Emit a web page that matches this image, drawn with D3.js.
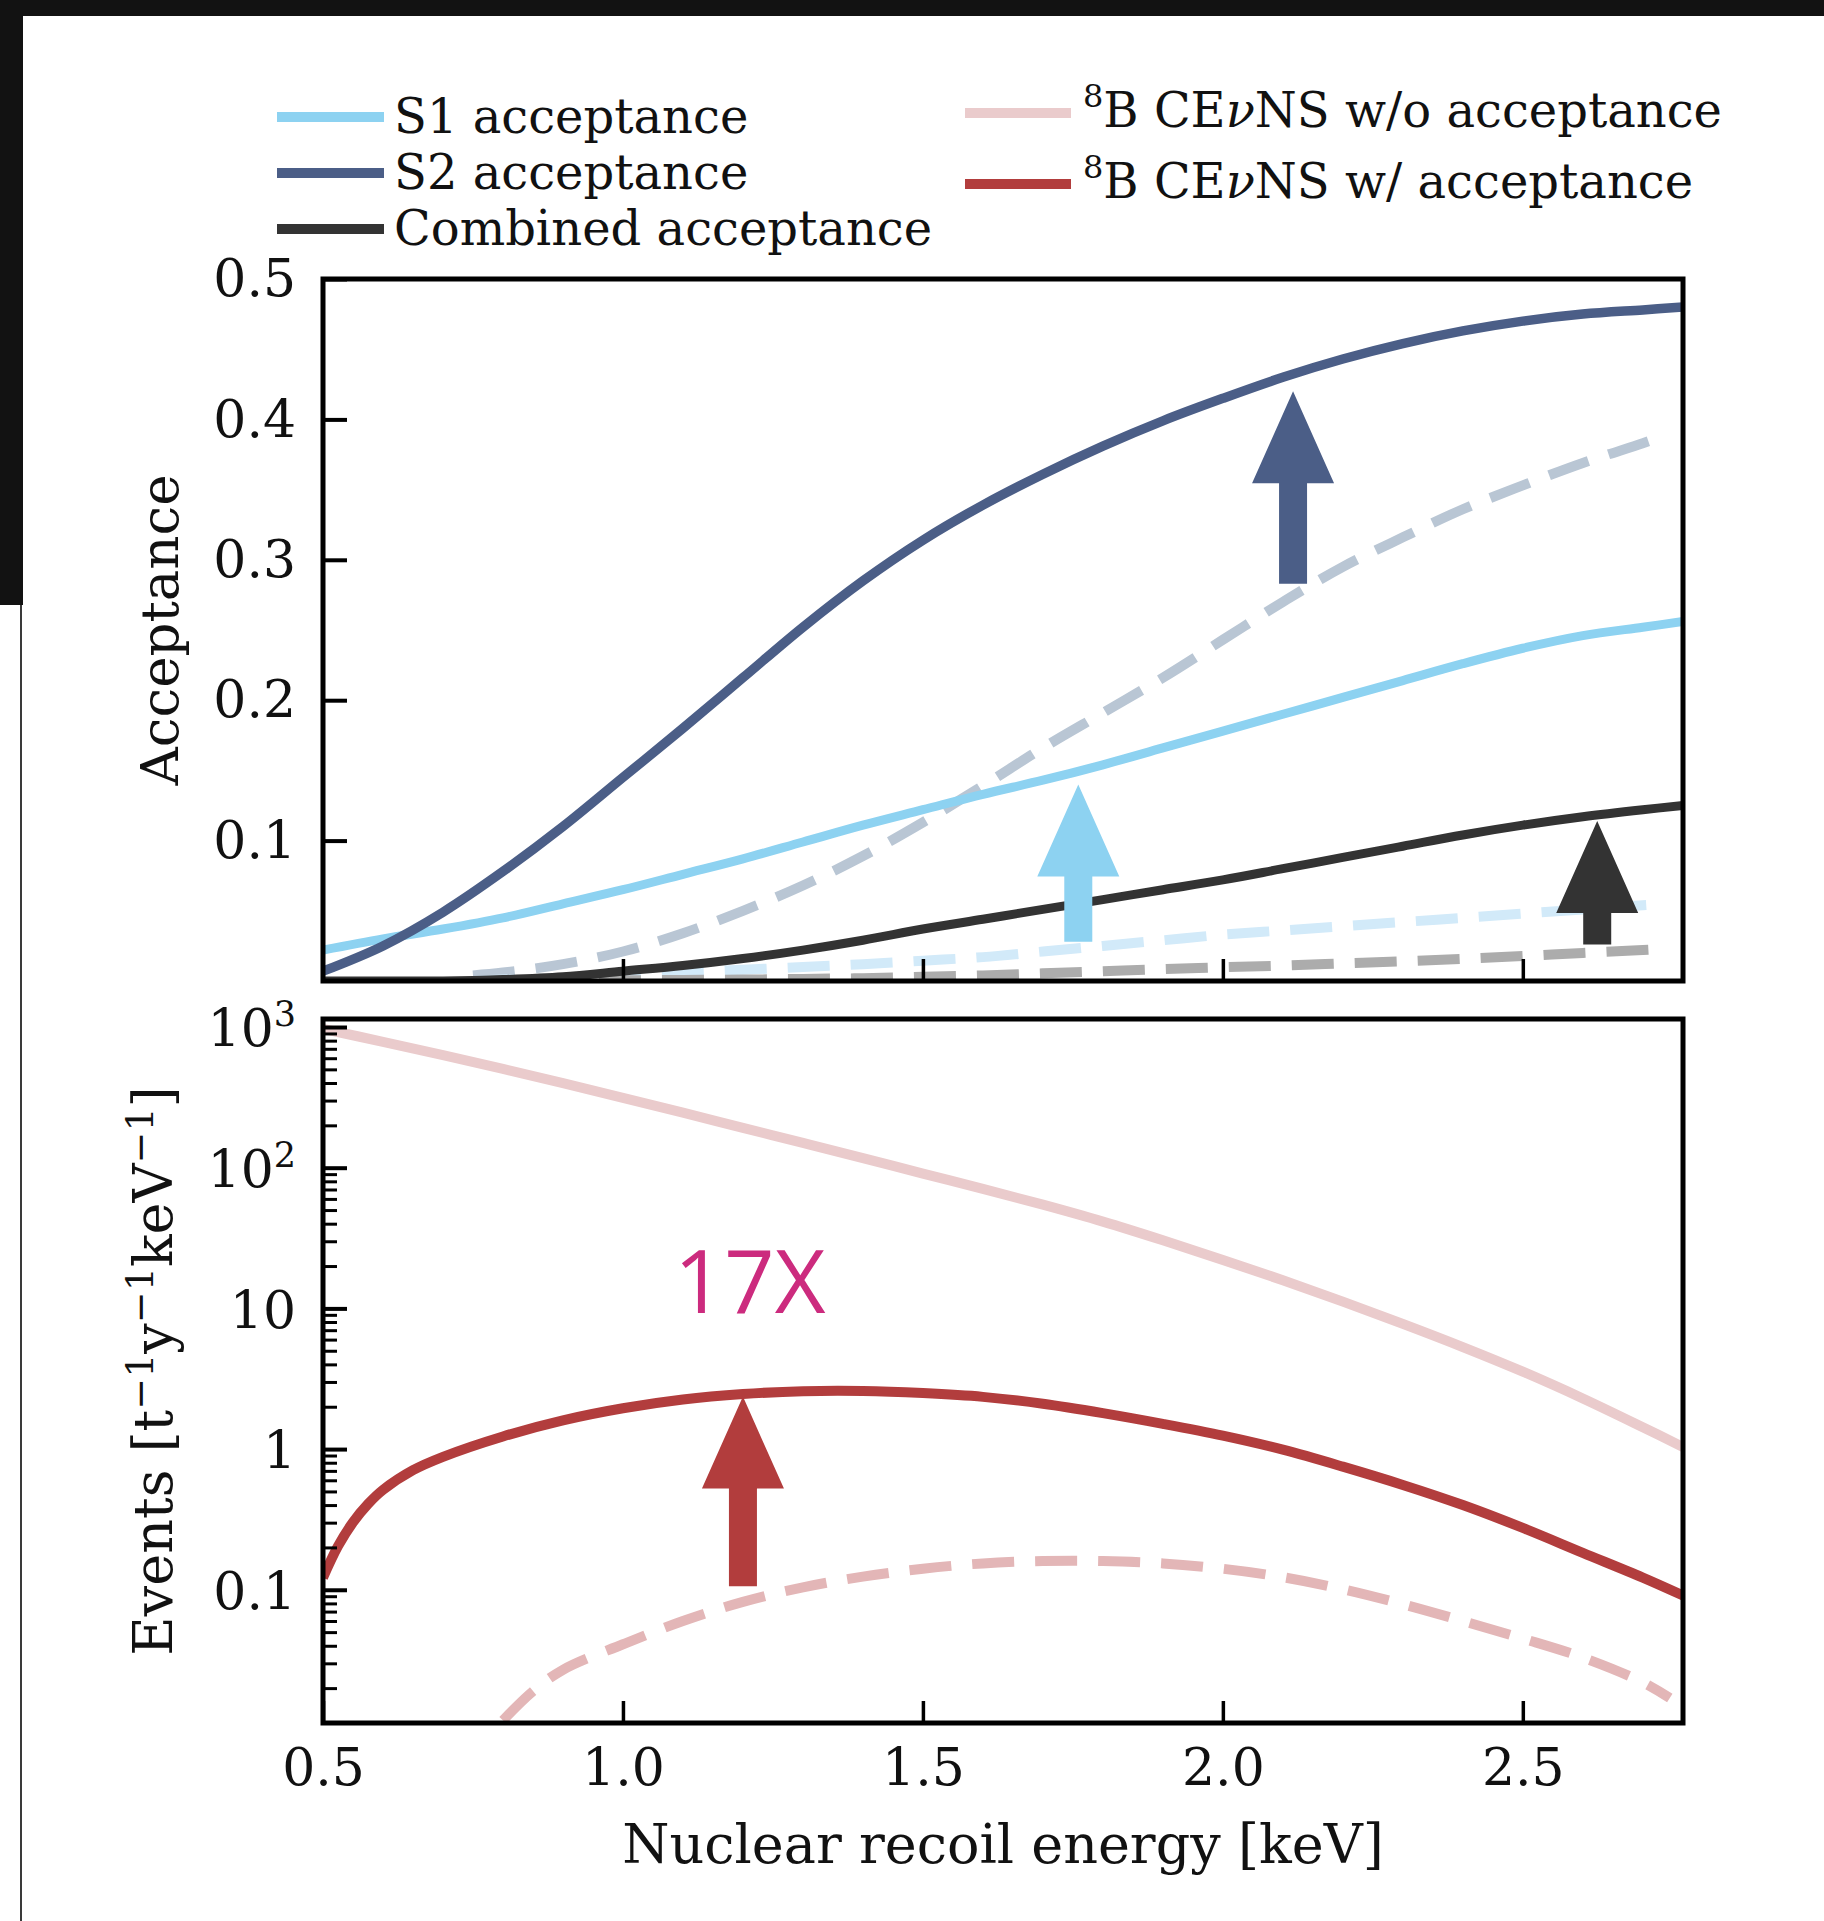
<!DOCTYPE html>
<html>
<head>
<meta charset="utf-8">
<script src="https://cdn.jsdelivr.net/npm/d3@7"></script>
<style>
  body { margin: 0; background: #ffffff; }
  svg { display: block; }
  text { font-family: "DejaVu Serif", serif; fill: #111111; }
</style>
</head>
<body>
<svg id="chart" width="1824" height="1921"></svg>
<script>
// ---------- data ----------
// Recoil energy grid (keV) for the acceptance curves
const energyGrid = [0.5, 0.6, 0.7, 0.8, 0.9, 1.0, 1.1, 1.2, 1.3, 1.4, 1.5, 1.6, 1.7, 1.8, 1.9, 2.0, 2.1, 2.2, 2.3, 2.4, 2.5, 2.6, 2.7, 2.767];
const s1Acceptance = [0.022, 0.030, 0.037, 0.045, 0.055, 0.065, 0.076, 0.087, 0.099, 0.111, 0.122, 0.133, 0.143, 0.154, 0.166, 0.178, 0.190, 0.202, 0.214, 0.226, 0.237, 0.246, 0.252, 0.256];
const s2Acceptance = [0.007, 0.025, 0.049, 0.078, 0.110, 0.145, 0.180, 0.216, 0.252, 0.285, 0.314, 0.339, 0.361, 0.381, 0.399, 0.415, 0.430, 0.443, 0.454, 0.463, 0.470, 0.475, 0.478, 0.480];
const combinedAcceptance = [0.000, 0.000, 0.000, 0.001, 0.003, 0.007, 0.011, 0.016, 0.022, 0.029, 0.037, 0.044, 0.051, 0.058, 0.065, 0.072, 0.080, 0.088, 0.096, 0.104, 0.111, 0.117, 0.122, 0.125];

// Previous (dashed) acceptance curves
const energyPrev = [0.75, 0.8, 0.9, 1.0, 1.1, 1.2, 1.3, 1.4, 1.5, 1.6, 1.7, 1.8, 1.9, 2.0, 2.1, 2.2, 2.3, 2.4, 2.5, 2.6, 2.7, 2.74];
const s1AcceptancePrev = [0.000, 0.001, 0.002, 0.004, 0.006, 0.008, 0.010, 0.012, 0.0145, 0.017, 0.021, 0.025, 0.029, 0.033, 0.036, 0.039, 0.042, 0.045, 0.048, 0.051, 0.054, 0.055];
const s2AcceptancePrev = [0.004, 0.006, 0.012, 0.021, 0.034, 0.050, 0.068, 0.089, 0.113, 0.139, 0.166, 0.191, 0.216, 0.243, 0.270, 0.295, 0.316, 0.336, 0.353, 0.369, 0.383, 0.389];
const combinedAcceptancePrev = [0.000, 0.000, 0.000, 0.0005, 0.0008, 0.001, 0.0015, 0.002, 0.003, 0.004, 0.0055, 0.007, 0.0085, 0.0098, 0.011, 0.0125, 0.014, 0.0158, 0.0178, 0.020, 0.022, 0.023];

// 8B CEvNS rate [t^-1 y^-1 keV^-1]
const rateNoAcc = [970, 785, 631, 504, 399, 314, 246, 192, 150, 117, 90.8, 70.8, 54.6, 41.4, 30.5, 22.1, 15.85, 11.17, 7.76, 5.31, 3.55, 2.29, 1.43, 1.035];
const energyRateAcc = [0.5, 0.525, 0.55, 0.575, 0.6, 0.65, 0.7, 0.8, 0.9, 1.0, 1.1, 1.2, 1.3, 1.4, 1.5, 1.6, 1.7, 1.8, 1.9, 2.0, 2.1, 2.2, 2.3, 2.4, 2.5, 2.6, 2.7, 2.767];
const rateWithAcc = [0.122, 0.204, 0.302, 0.407, 0.513, 0.708, 0.881, 1.23, 1.60, 1.95, 2.25, 2.46, 2.58, 2.59, 2.50, 2.35, 2.10, 1.80, 1.51, 1.245, 0.99, 0.75, 0.556, 0.40, 0.275, 0.183, 0.122, 0.091];
const energyRatePrev = [0.8, 0.85, 0.9, 1.0, 1.1, 1.2, 1.3, 1.4, 1.5, 1.6, 1.7, 1.8, 1.9, 2.0, 2.1, 2.2, 2.3, 2.4, 2.5, 2.6, 2.7, 2.745];
const rateWithAccPrev = [0.0118, 0.019, 0.027, 0.041, 0.060, 0.082, 0.104, 0.124, 0.141, 0.154, 0.160, 0.160, 0.154, 0.141, 0.123, 0.101, 0.079, 0.060, 0.045, 0.033, 0.022, 0.017];

// Improvement arrows: energy, start value, end value
const accArrowEnergy = [2.117, 1.759, 2.624];
const accArrowFrom = [0.283, 0.028, 0.026];
const accArrowTo = [0.420, 0.140, 0.114];
const rateArrowEnergy = [1.20];
const rateArrowFrom = [0.106];
const rateArrowTo = [2.36];

// Tick labels
const xTicks = [0.5, 1.0, 1.5, 2.0, 2.5];
const accTicks = [0.1, 0.2, 0.3, 0.4, 0.5];
const rateTicks = [0.1, 1, 10, 100, 1000];
const rateTickLabels = [["0.1", ""], ["1", ""], ["10", ""], ["10", "2"], ["10", "3"]];

// Legend entries
const legendLeft = ["S1 acceptance", "S2 acceptance", "Combined acceptance"];
const legendRight = ["w/o acceptance", "w/ acceptance"];

// ---------- layout ----------
const svg = d3.select("#chart");
const W = 1824, H = 1921;
const plotLeft = 323, plotRight = 1683;
const topY0 = 279, topY1 = 981;
const botY0 = 1019, botY1 = 1723;

const colors = {
  s1: "#8dd2f1", s2: "#4b5e87", comb: "#333333",
  s1Prev: "#d2eaf9", s2Prev: "#b9c6d4", combPrev: "#acacac",
  rateNo: "#eacbcc", rate: "#b23d3d", ratePrev: "#e3b6b7",
  note: "#cc2b7e"
};

// page backdrop
svg.append("rect").attr("x", 0).attr("y", 0).attr("width", W).attr("height", H).attr("fill", "#ffffff");
svg.append("rect").attr("x", 0).attr("y", 0).attr("width", W).attr("height", 16).attr("fill", "#121212");
svg.append("rect").attr("x", 0).attr("y", 0).attr("width", 23).attr("height", 605).attr("fill", "#121212");
svg.append("line").attr("x1", 21).attr("x2", 21).attr("y1", 605).attr("y2", H)
  .attr("stroke", "#3a3a3a").attr("stroke-width", 2);

// scales
const x = d3.scaleLinear().domain([0.5, 2.767]).range([plotLeft, plotRight]);
const yAcc = d3.scaleLinear().domain([0, 0.5]).range([topY1, topY0]);
const yRate = d3.scaleLog().domain([0.0113, 1140]).range([botY1, botY0]);

// clip paths
const defs = svg.append("defs");
defs.append("clipPath").attr("id", "clipTop").append("rect")
  .attr("x", plotLeft).attr("y", topY0).attr("width", plotRight - plotLeft).attr("height", topY1 - topY0);
defs.append("clipPath").attr("id", "clipBot").append("rect")
  .attr("x", plotLeft).attr("y", botY0).attr("width", plotRight - plotLeft).attr("height", botY1 - botY0);

const DASH = "42,21";

function drawCurve(g, xs, ys, yScale, color, width, dash) {
  const pts = xs.map((e, i) => [e, ys[i]]);
  const line = d3.line().x(d => x(d[0])).y(d => yScale(d[1])).curve(d3.curveCatmullRom.alpha(0.5));
  g.append("path").datum(pts).attr("d", line)
    .attr("fill", "none").attr("stroke", color).attr("stroke-width", width)
    .attr("stroke-linecap", "butt").attr("stroke-linejoin", "round")
    .attr("stroke-dasharray", dash || null);
}

function drawArrow(g, e, v0, v1, yScale, color) {
  const cx = x(e), yTail = yScale(v0), yTip = yScale(v1);
  const shaft = 14, head = 41, headLen = 92;
  const yBase = yTip + headLen;
  const pts = [
    [cx - shaft, yTail], [cx - shaft, yBase], [cx - head, yBase], [cx, yTip],
    [cx + head, yBase], [cx + shaft, yBase], [cx + shaft, yTail]
  ];
  g.append("path").attr("d", d3.line()(pts) + "Z").attr("fill", color);
}

// ---------- top panel: acceptance ----------
const gTop = svg.append("g");
const curvesTop = gTop.append("g").attr("clip-path", "url(#clipTop)");
drawCurve(curvesTop, energyPrev, s2AcceptancePrev, yAcc, colors.s2Prev, 10, DASH);
drawCurve(curvesTop, energyPrev, s1AcceptancePrev, yAcc, colors.s1Prev, 10, DASH);
drawCurve(curvesTop, energyPrev, combinedAcceptancePrev, yAcc, colors.combPrev, 10, DASH);
drawCurve(curvesTop, energyGrid, s1Acceptance, yAcc, colors.s1, 9);
drawCurve(curvesTop, energyGrid, s2Acceptance, yAcc, colors.s2, 9.5);
drawCurve(curvesTop, energyGrid, combinedAcceptance, yAcc, colors.comb, 9);

const arrowColorsTop = [colors.s2, colors.s1, colors.comb];
accArrowEnergy.forEach((e, i) => drawArrow(gTop, e, accArrowFrom[i], accArrowTo[i], yAcc, arrowColorsTop[i]));

// ---------- bottom panel: event rate ----------
const gBot = svg.append("g");
const curvesBot = gBot.append("g").attr("clip-path", "url(#clipBot)");
drawCurve(curvesBot, energyGrid, rateNoAcc, yRate, colors.rateNo, 10);
drawCurve(curvesBot, energyRatePrev, rateWithAccPrev, yRate, colors.ratePrev, 10, DASH);
drawCurve(curvesBot, energyRateAcc, rateWithAcc, yRate, colors.rate, 10);
rateArrowEnergy.forEach((e, i) => drawArrow(gBot, e, rateArrowFrom[i], rateArrowTo[i], yRate, colors.rate));

gBot.append("text").attr("x", 674).attr("y", 1313)
  .style("font-family", "'Open Sans', sans-serif").style("font-size", "88px")
  .style("fill", colors.note).text("17X");

// ---------- axes ----------
const TICK_FONT = "52px";
function styleAxis(g, width) {
  g.select(".domain").remove();
  g.selectAll(".tick line").attr("stroke", "#000").attr("stroke-width", width);
  g.selectAll("text").style("font-family", "'DejaVu Serif', serif").style("font-size", TICK_FONT).attr("fill", "#111");
}

// top panel axes
const axTopX = svg.append("g").attr("transform", `translate(0,${topY1})`)
  .call(d3.axisBottom(x).tickValues(xTicks.slice(1)).tickSize(-22).tickFormat(""));
styleAxis(axTopX, 3.5);
const axTopY = svg.append("g").attr("transform", `translate(${plotLeft},0)`)
  .call(d3.axisLeft(yAcc).tickValues(accTicks).tickSize(-24).tickPadding(27).tickFormat(d3.format(".1f")));
styleAxis(axTopY, 4);

// bottom panel axes
const axBotX = svg.append("g").attr("transform", `translate(0,${botY1})`)
  .call(d3.axisBottom(x).tickValues(xTicks).tickSize(-22).tickPadding(25).tickFormat(d3.format(".1f")));
styleAxis(axBotX, 3.5);

const minorTicks = [];
for (let p = -2; p <= 3; p++) {
  for (let m = 2; m <= 9; m++) {
    const v = m * Math.pow(10, p);
    if (v > 0.0113 && v < 1140) minorTicks.push(v);
  }
}
const axBotMinor = svg.append("g").attr("transform", `translate(${plotLeft},0)`)
  .call(d3.axisLeft(yRate).tickValues(minorTicks).tickSize(-14).tickFormat(""));
styleAxis(axBotMinor, 3);
const axBotY = svg.append("g").attr("transform", `translate(${plotLeft},0)`)
  .call(d3.axisLeft(yRate).tickValues(rateTicks).tickSize(-24).tickPadding(27).tickFormat(""));
styleAxis(axBotY, 4);
axBotY.selectAll(".tick").each(function (d, i) {
  const lab = rateTickLabels[i];
  const t = d3.select(this).append("text")
    .attr("x", -27).attr("dy", "0.36em").attr("text-anchor", "end")
    .style("font-family", "'DejaVu Serif', serif").style("font-size", TICK_FONT).attr("fill", "#111");
  t.append("tspan").text(lab[0]);
  if (lab[1]) {
    t.append("tspan").attr("dy", "-20").style("font-size", "35px").text(lab[1]);
  }
});

// frames
[[topY0, topY1], [botY0, botY1]].forEach(([a, b]) => {
  svg.append("rect").attr("x", plotLeft).attr("y", a).attr("width", plotRight - plotLeft).attr("height", b - a)
    .attr("fill", "none").attr("stroke", "#000").attr("stroke-width", 5);
});

// axis labels
svg.append("text").attr("transform", `translate(178,${(topY0 + topY1) / 2}) rotate(-90)`)
  .attr("text-anchor", "middle").style("font-size", "53px").text("Acceptance");

const evLabel = svg.append("text").attr("transform", `translate(172,${(botY0 + botY1) / 2}) rotate(-90)`)
  .attr("text-anchor", "middle").style("font-size", "54px");
const SUP_SHIFT = 19;
let raised = false;
[["Events [t", false], ["\u22121", true], ["y", false], ["\u22121", true], ["keV", false], ["\u22121", true], ["]", false]]
  .forEach(([s, sup]) => {
    let dy = null;
    if (sup && !raised) { dy = -SUP_SHIFT; raised = true; }
    else if (!sup && raised) { dy = SUP_SHIFT; raised = false; }
    evLabel.append("tspan").attr("dy", dy).style("font-size", sup ? "38px" : null).text(s);
  });

svg.append("text").attr("x", (plotLeft + plotRight) / 2).attr("y", 1863)
  .attr("text-anchor", "middle").style("font-size", "54px").text("Nuclear recoil energy [keV]");

// ---------- legend ----------
const legendColorsLeft = [colors.s1, colors.s2, colors.comb];
const legendYLeft = [117, 173, 229];
legendLeft.forEach((name, i) => {
  svg.append("line").attr("x1", 277).attr("x2", 384).attr("y1", legendYLeft[i]).attr("y2", legendYLeft[i])
    .attr("stroke", legendColorsLeft[i]).attr("stroke-width", 10);
  svg.append("text").attr("x", 394).attr("y", legendYLeft[i] + 16).style("font-size", "48px").text(name);
});
const legendColorsRight = [colors.rateNo, colors.rate];
const legendYRight = [113, 184];
legendRight.forEach((name, i) => {
  svg.append("line").attr("x1", 965).attr("x2", 1071).attr("y1", legendYRight[i]).attr("y2", legendYRight[i])
    .attr("stroke", legendColorsRight[i]).attr("stroke-width", 10);
  const t = svg.append("text").attr("x", 1083).attr("y", legendYRight[i] + 14).style("font-size", "48px");
  t.append("tspan").attr("dy", -20).style("font-size", "32px").text("8");
  t.append("tspan").attr("dy", 20).text("B CE");
  t.append("tspan").style("font-style", "italic").text("\u03bd");
  t.append("tspan").text("NS " + name);
});
</script>
</body>
</html>
